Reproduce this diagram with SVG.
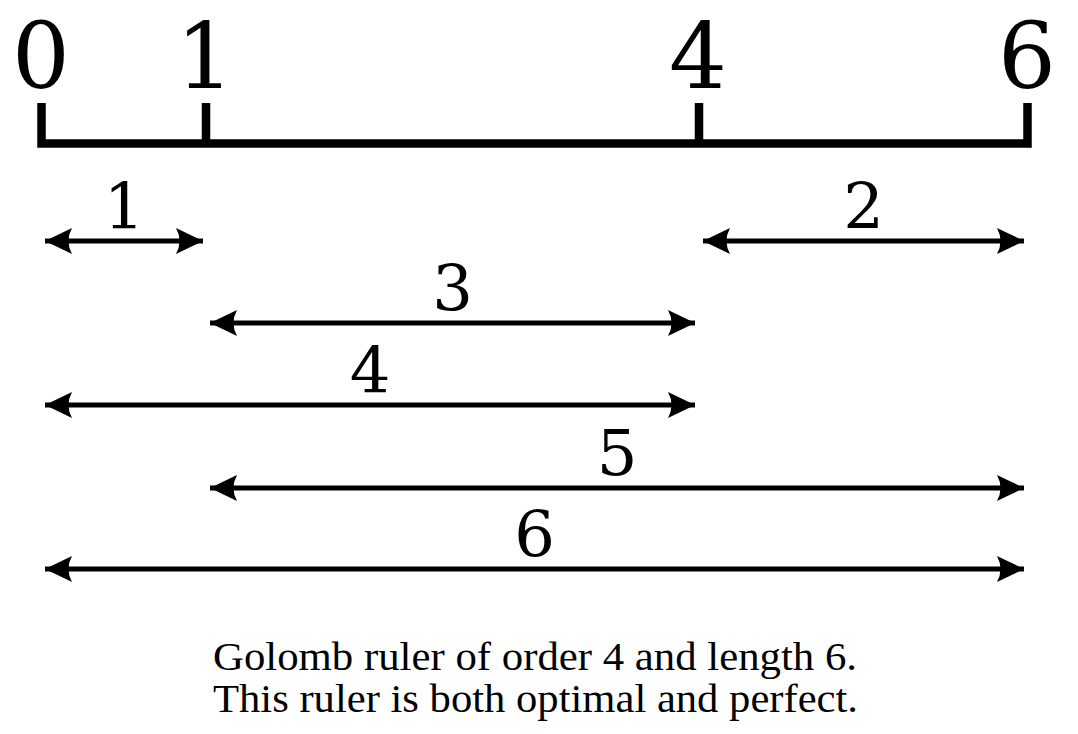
<svg xmlns="http://www.w3.org/2000/svg" width="1078" height="734" viewBox="0 0 1078 734">
<style>
.num{font-family:"DejaVu Serif",serif;fill:#000;text-anchor:middle}
.top{font-size:91px}
.lab{font-size:64px}
.cap{font-family:"Liberation Serif","Times New Roman",serif;font-size:40px;fill:#000}
.arr{stroke:#000;stroke-width:5;fill:none;marker-start:url(#ah);marker-end:url(#ah)}
.rul{stroke:#000;stroke-width:8.5;fill:none;stroke-linejoin:miter;stroke-linecap:butt}
</style>
<defs>
<marker id="ah" markerUnits="userSpaceOnUse" viewBox="-28 -14 30 28" refX="0" refY="0" markerWidth="30" markerHeight="28" orient="auto-start-reverse">
<path d="M0,0 L-27,-13 Q-20,0 -27,13 Z" fill="#000"/>
</marker>
</defs>
<rect width="1078" height="734" fill="#fff"/>
<g id="ruler">
<path class="rul" d="M41.5,103 V143.5 H1027.5 V103 M206,103 V143.5 M699,103 V143.5"/>
<text class="num top" x="41" y="88">0</text>
<text class="num top" x="205" y="88">1</text>
<text class="num top" x="698" y="88">4</text>
<text class="num top" x="1027" y="88">6</text>
</g>
<g id="connectors">
<line class="arr" x1="45" y1="241" x2="203" y2="241"/>
<line class="arr" x1="703" y1="241" x2="1024" y2="241"/>
<line class="arr" x1="210" y1="323" x2="695" y2="323"/>
<line class="arr" x1="45" y1="405" x2="695" y2="405"/>
<line class="arr" x1="210" y1="488" x2="1024" y2="488"/>
<line class="arr" x1="45" y1="569" x2="1024" y2="569"/>
</g>
<g id="label-1"><text class="num lab" x="124" y="229">1</text></g>
<g id="label-2"><text class="num lab" x="863.5" y="229">2</text></g>
<g id="label-3"><text class="num lab" x="452.5" y="311">3</text></g>
<g id="label-4"><text class="num lab" x="370" y="393">4</text></g>
<g id="label-5"><text class="num lab" x="617" y="475">5</text></g>
<g id="label-6"><text class="num lab" x="534.5" y="557">6</text></g>
<g id="caption">
<text class="cap" x="213" y="670" textLength="644" lengthAdjust="spacingAndGlyphs">Golomb ruler of order 4 and length 6.</text>
<text class="cap" x="213" y="712" textLength="645" lengthAdjust="spacingAndGlyphs">This ruler is both optimal and perfect.</text>
</g>
</svg>
